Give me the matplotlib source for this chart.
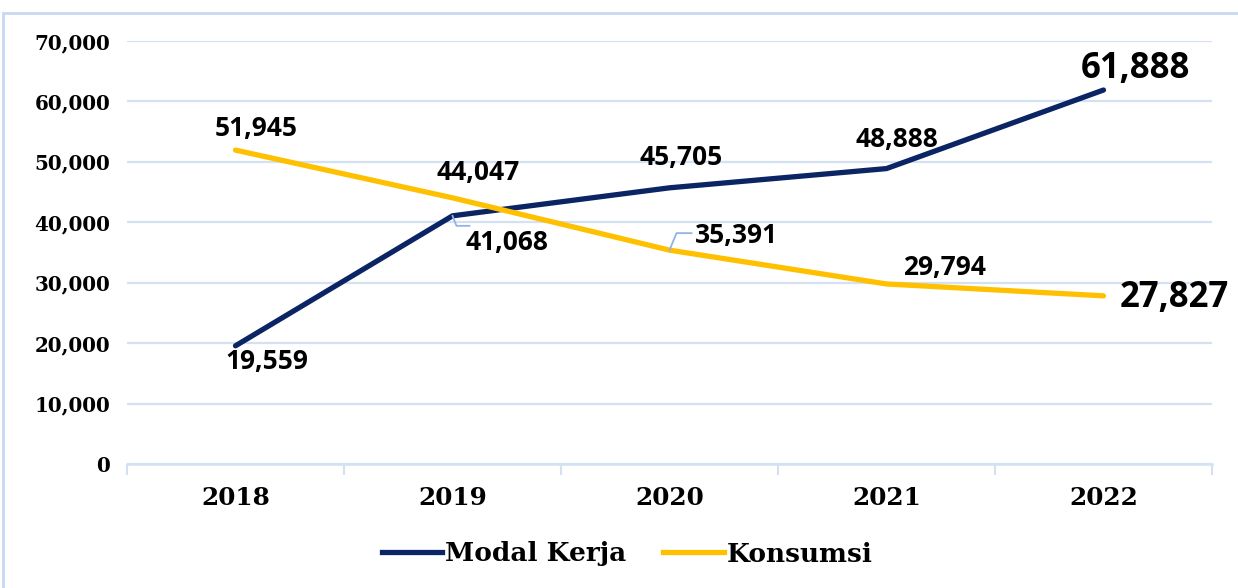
import matplotlib.pyplot as plt
from matplotlib.patches import Rectangle
from matplotlib.transforms import IdentityTransform

# Data
years = ["2018", "2019", "2020", "2021", "2022"]
modal_kerja = [19559, 41068, 45705, 48888, 61888]
konsumsi = [51945, 44047, 35391, 29794, 27827]

navy = "#0b2463"
gold = "#ffc000"
grid_c = "#d3e1f2"

plt.rcParams["font.family"] = ["DejaVu Serif"]

fig = plt.figure(figsize=(12.38, 5.88), dpi=100)
ax = fig.add_axes([127 / 1238, 1 - 464 / 588, (1212 - 127) / 1238, (464 - 41) / 588])

x = list(range(len(years)))
ax.plot(x, modal_kerja, color=navy, lw=3.8, solid_capstyle="round", zorder=3)
ax.plot(x, konsumsi, color=gold, lw=3.8, solid_capstyle="round", zorder=3)

ax.set_xlim(-0.5, 4.5)
ax.set_ylim(0, 70000)
ax.set_yticks(range(0, 70001, 10000))
ax.set_yticklabels(["0" if v == 0 else f"{v:,}" for v in range(0, 70001, 10000)],
                   fontsize=14.3, fontweight="bold")
ax.yaxis.grid(True, color=grid_c, lw=1.6)
ax.set_axisbelow(True)
ax.tick_params(axis="y", length=0, pad=12)

# category labels centred, ticks on boundaries
ax.set_xticks(x)
ax.set_xticklabels(years, fontsize=17.8, fontweight="bold")
ax.set_xticks([i - 0.5 for i in range(len(years) + 1)], minor=True)
ax.tick_params(axis="x", which="major", length=0, pad=16)
ax.tick_params(axis="x", which="minor", length=8, width=1.5, color=grid_c)

for s in ["top", "right", "left"]:
    ax.spines[s].set_visible(False)
ax.spines["bottom"].set_color(grid_c)
ax.spines["bottom"].set_linewidth(1.8)

# data labels: offsets in pixels from each point
mk_off = [(31, -16), (54, -27), (12, 30), (10, 29), (32, 21)]
ks_off = [(21, 22), (26, 25), (67, 15), (58, 16), (71, -2)]
lab_font = ["Open Sans", "DejaVu Sans"]
for i in x:
    big = i == 4
    ax.annotate(f"{modal_kerja[i]:,}", (i, modal_kerja[i]), xytext=mk_off[i],
                textcoords="offset pixels", ha="center", va="center",
                fontsize=25 if big else 19, fontweight="bold", family=lab_font)
    ax.annotate(f"{konsumsi[i]:,}", (i, konsumsi[i]), xytext=ks_off[i],
                textcoords="offset pixels", ha="center", va="center",
                fontsize=25 if big else 19, fontweight="bold", family=lab_font)

# leader lines
leaders = [((1, modal_kerja[1]), [(0, 0), (4, -10), (17, -10)]),
           ((2, konsumsi[2]), [(0, 0), (7, 17), (22, 17)])]
for pt, offs in leaders:
    px, py = ax.transData.transform(pt)
    xs = [px + dx for dx, dy in offs]
    ys = [py + dy for dx, dy in offs]
    fig.add_artist(plt.Line2D(xs, ys, transform=IdentityTransform(),
                              color="#8fb4e3", lw=1.3))

# legend
fig.legend(handles=[plt.Line2D([], [], color=navy, lw=3.8),
                    plt.Line2D([], [], color=gold, lw=3.8)],
           labels=["Modal Kerja", "Konsumsi"], loc="center",
           bbox_to_anchor=(627 / 1238, 1 - 554 / 588), ncol=2, frameon=False,
           prop={"size": 19, "weight": "bold"}, handlelength=2.3,
           handletextpad=0.1, columnspacing=1.4)

# outer border
fig.add_artist(Rectangle((3 / 1238, -0.1), 1.2, 1 - 13 / 588 + 0.1,
                         transform=fig.transFigure, fill=False,
                         edgecolor="#c5d9f1", lw=2))

fig.savefig("out.png", dpi=100)
